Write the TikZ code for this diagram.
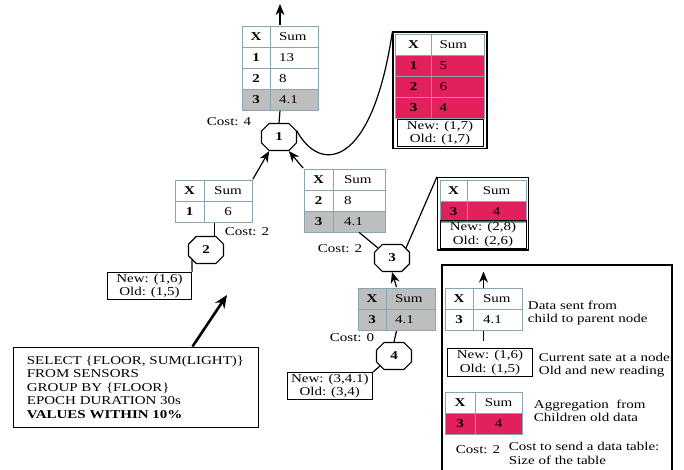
\documentclass[tikz,border=0pt]{standalone}
\usepackage{fontspec}
\setmainfont{Liberation Serif}[FakeStretch=1.25]
\usepackage{tikz}
\usetikzlibrary{arrows,arrows.meta}
\usetikzlibrary{matrix,shapes.misc,fit,positioning}
\definecolor{tabline}{RGB}{135,165,180}
\definecolor{cellgray}{RGB}{190,190,190}
\definecolor{cellpink}{RGB}{226,32,92}
\newcommand{\txt}{\fontsize{12}{13.5}\selectfont}

\begin{document}
\begin{tikzpicture}[x=1pt,y=1pt,
  ->,>={Stealth[length=11pt,width=9pt]},line width=1.2pt,font=\txt,
  tab/.style={matrix of nodes,column sep=-0.6pt,row sep=-0.6pt,inner sep=0pt,-,
    nodes={draw=tabline,line width=0.6pt,minimum height=21pt,inner sep=0pt,anchor=center}},
  xcol/.style={column 1/.style={nodes={minimum width=#1,font=\txt\bfseries}}},
  sumc/.style={column 2/.style={nodes={minimum width=#1}}},
  suml/.style n args={3}{column 2/.style={nodes={minimum width=#1,inner xsep=#2,text width=#3,align=left}}},
  grayrow/.style={row #1/.style={nodes={fill=cellgray}}},
  pinkrow/.style={row #1/.style={nodes={fill=cellpink}}},
  nbox/.style={draw,line width=1pt,align=center,inner xsep=9pt,inner ysep=1.5pt},
  frame/.style={draw,line width=1.4pt,inner sep=1.5pt}]
      \tikzstyle{oct}=[chamfered rectangle,chamfered rectangle xsep=7pt,chamfered rectangle ysep=7pt,
        draw,line width=1.1pt,minimum width=35pt,minimum height=27pt,inner sep=0pt,font=\txt\bfseries]

  \useasboundingbox (0,0) rectangle (684,469);

  % sink
  \matrix (t1) at (280,401) [tab,xcol=28pt,suml={48pt}{9pt}{30pt},grayrow=4] {
    X & Sum \\ 1 & 13 \\ 2 & 8 \\ 3 & 4.1 \\
  };
  \coordinate[above=21pt of t1.north] (out1);
  \node (c1) at (229,347) {Cost: 4};
  \node[oct] (n1) at (279,332) {1};

  \matrix (a1) at (440,392.5) [tab,xcol=36pt,suml={53pt}{8pt}{37pt},pinkrow=2,pinkrow=3,pinkrow=4] {
    X & Sum \\ 1 & 5 \\ 2 & 6 \\ 3 & 4 \\
  };
  \node[nbox,minimum width=86pt] (s1) at (440,336) {New: (1,7)\\Old: (1,7)};
  \node[frame,fit=(a1)(s1)] (f1) {};

  % left child
  \matrix (t2) at (213.5,268) [tab,xcol=29pt,sumc=48pt] {
    X & Sum \\ 1 & 6 \\
  };
  \node (c2) at (247,237) {Cost: 2};
  \node[oct] (n2) at (206,219) {2};
  \node[nbox] (s2) at (149.5,183) {New: (1,6)\\Old: (1,5)};

  % right child
  \matrix (t3) at (344.5,268.5) [tab,xcol=29pt,suml={52pt}{11pt}{30pt},grayrow=3] {
    X & Sum \\ 2 & 8 \\ 3 & 4.1 \\
  };
  \node (c3) at (340,220) {Cost: 2};
  \node[oct] (n3) at (392,211) {3};

  \matrix (a3) at (483,268) [tab,xcol=27pt,sumc=59pt,pinkrow=2] {
    X & Sum \\ 3 & 4 \\
  };
  \node[nbox,minimum width=86pt] (s3) at (483,234.5) {New: (2,8)\\Old: (2,6)};
  \node[frame,fit=(a3)(s3)] (f3) {};

  \matrix (t4) at (396.5,160) [tab,xcol=28pt,suml={49pt}{9pt}{31pt},grayrow=1,grayrow=2] {
    X & Sum \\ 3 & 4.1 \\
  };
  \node (c4) at (352,131) {Cost: 0};
  \node[oct] (n4) at (394,113) {4};
  \node[nbox,inner xsep=4pt,anchor=north east] (s4) at (373,97) {New: (3,4.1)\\Old: (3,4)};

  % query
  \node[draw,line width=1pt,align=left,minimum width=245pt,minimum height=80pt] (q) at (135.5,82)
    {SELECT \{FLOOR, SUM(LIGHT)\}\\FROM SENSORS\\GROUP BY \{FLOOR\}\\EPOCH DURATION 30s\\\textbf{VALUES WITHIN 10\%}};
  \coordinate (qa) at (227,174);

  \path (t1.north) edge (out1)
        (n1.north) edge[-] (t1.south)
        (t2.north east) edge (n1.-125)
        (t3.north west) edge (n1.-55)
        (n2.60) edge[-] (t2.south -| n2.60)
        (n2.south west) edge[-] (s2.north east)
        (t3-3-2.south) edge[-] (n3.north west)
        (n3.north east) edge[-] (f3.north west)
        (t4.north) edge (n3.south)
        (t4.south) edge[-] (n4.north)
        (n4.south west) edge[-] (s4.north east);
  \draw[-] (n1.20) .. controls (320,295) and (372,300) .. (f1.north west);
  \draw[line width=2.6pt,-{Stealth[length=13pt,width=11pt]}] ([xshift=57pt]q.north) -- (qa);

  % legend
  \draw[-,line width=1.4pt] (442,-5) |- (672,204) -- (672,-5);
  \matrix (lt1) at (483.5,159.5) [tab,xcol=28pt,suml={49pt}{10pt}{29pt}] {
    X & Sum \\ 3 & 4.1 \\
  };
  \coordinate[above=16pt of lt1.north] (lup);
  \coordinate[below=10pt of lt1.south] (ldn);
  \draw (lt1.north) -- (lup);
  \draw[-] (lt1.south) -- (ldn);
  \node[anchor=west,align=left] (l1) at (524,156) {Data sent from\\child to parent node};
  \node[nbox,minimum width=84pt] (ls) at (490,106.5) {New: (1,6)\\Old: (1,5)};
  \node[anchor=west,align=left] (l2) at (535,104) {Current sate at a node:\\Old and new reading};
  \matrix (lt2) at (483.5,55.5) [tab,xcol=30pt,sumc=47pt,pinkrow=2] {
    X & Sum \\ 3 & 4 \\
  };
  \node[anchor=west,align=left] (l3) at (530,58) {Aggregation\ \ from\\Children old data};
  \node (c5) at (478,19) {Cost: 2};
  \node[anchor=west,align=left] (l4) at (505,15.5) {Cost to send a data table:\\Size of the table};

\end{tikzpicture}
\end{document}
